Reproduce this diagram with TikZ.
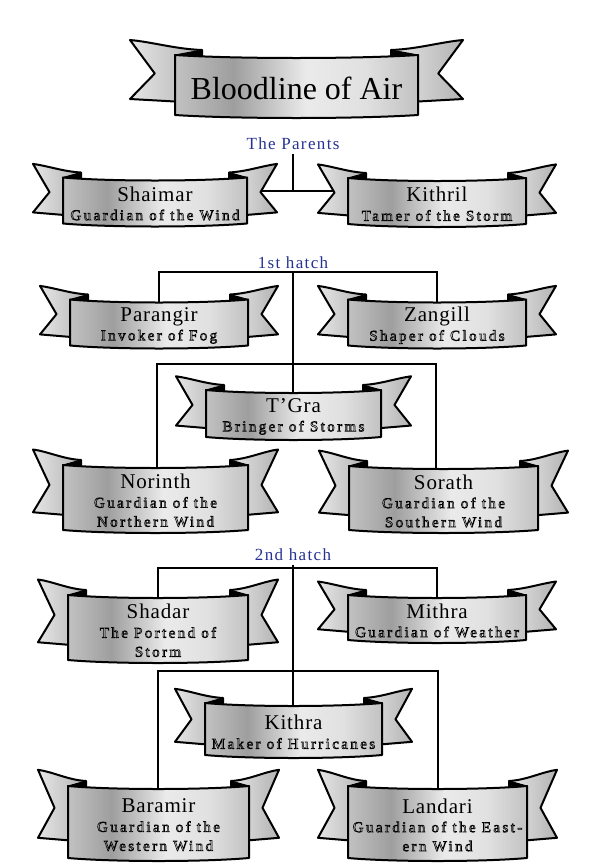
\documentclass[tikz,border=0pt]{standalone}
\usepackage{fontspec}
\setmainfont{Liberation Serif}
\usetikzlibrary{backgrounds}
\definecolor{hatchblue}{RGB}{38,50,145}
\pgfdeclarehorizontalshading{silver}{100bp}{color(0bp)=(black!24); color(25bp)=(black!24); color(37bp)=(black!38); color(52bp)=(black!8); color(64bp)=(black!12); color(75bp)=(black!24); color(100bp)=(black!24)}
\pgfdeclarehorizontalshading{tailshade}{100bp}{color(0bp)=(black!10); color(25bp)=(black!10); color(75bp)=(black!30); color(100bp)=(black!30)}
\tikzset{every ribbon/.style={draw=black,line width=2pt,line join=round},
        ribbon panel/.style={every ribbon,shading=silver},
        ribbon tail/.style={every ribbon,shading=tailshade},
        ribbon fold/.style={fill=black,draw=black,line width=1pt,line join=round},
        ribbon text/.style={align=center,inner sep=0pt,
                            font=\fontsize{21}{19}\selectfont\addfontfeature{LetterSpace=4}},
        hatch/.style={text=hatchblue,font=\fontsize{17}{17}\selectfont\addfontfeature{LetterSpace=8}},
        link/.style={draw=black,line width=1.2pt},
        }
% outlined second line of a ribbon
\newcommand{\role}[1]{{\fontsize{15}{19}\selectfont\addfontfeature{LetterSpace=16}%
  \special{pdf:literal direct 1 Tr 0.6 w}#1\special{pdf:literal direct 0 Tr}}}
% [tail length]{name}{centre}{half width}{half height}{text}
\newcommand{\ribbon}[6][30]{%
  \begin{scope}[shift={#3}]
    \foreach \side in {1,-1}{
      \begin{scope}[xscale=\side]
        \shadedraw[ribbon tail] (-#4-#1,-1.2*#5-12)
          .. controls (-#4-0.5*#1,-1.2*#5-10) and (-#4,-#5-9) .. (-#4+0.6*#1,-#5-8)
          -- (-#4+0.6*#1,0.3*#5+6) -- (-#4-#1,0.3*#5+2)
          -- (-#4-0.45*#1,-0.45*#5-1) -- cycle;
        \filldraw[ribbon fold] (-#4,-#5-3) -- (-#4+0.6*#1,-#5-8) -- (-#4+0.6*#1,-#5) -- cycle;
      \end{scope}
    }
    \shadedraw[ribbon panel] (-#4,-#5-3) .. controls (-#4/2,-#5+1) and (#4/2,-#5+1) .. (#4,-#5-3)
      -- (#4,#5-3) .. controls (#4/2,#5+1) and (-#4/2,#5+1) .. (-#4,#5-3) -- cycle;
    \node[ribbon text] (#2) at (0,0) {#6};
  \end{scope}}

\begin{document}
\begin{tikzpicture}[x=1pt,y=-1pt]
    \useasboundingbox (0,0) rectangle (596,865);

    \ribbon[45]{title}{(296.5,88)}{121.5}{30}{\fontsize{32}{34}\selectfont\addfontfeature{LetterSpace=0} Bloodline of Air}
    \node[hatch] (parents) at (293,144) {The Parents};

    \ribbon{shaimar}{(155,203.5)}{92}{23}{Shaimar\\ \role{Guardian of the Wind}}
    \ribbon{kithril}{(437,204)}{89}{23}{Kithril\\ \role{Tamer of the Storm}}

    \node[hatch] (hatchA) at (293,263) {1st hatch};
    \ribbon{parangir}{(159,325.5)}{89}{23}{Parangir\\ \role{Invoker of Fog}}
    \ribbon{zangill}{(437,325.5)}{89}{23}{Zangill\\ \role{Shaper of Clouds}}
    \ribbon{tgra}{(293.5,416.5)}{87.5}{23.5}{T'Gra\\ \role{Bringer of Storms}}
    \ribbon{norinth}{(155.5,500.5)}{92.5}{32.5}{Norinth\\ \role{Guardian of the}\\ \role{Northern Wind}}
    \ribbon{sorath}{(443.5,501)}{94.5}{32}{Sorath\\ \role{Guardian of the}\\ \role{Southern Wind}}

    \node[hatch] (hatchB) at (293,555) {2nd hatch};
    \ribbon{shadar}{(158,630.5)}{90}{32.5}{Shadar\\ \role{The Portend of}\\ \role{Storm}}
    \ribbon{mithra}{(437,620.5)}{89}{22.5}{Mithra\\ \role{Guardian of Weather}}
    \ribbon{kithra}{(293.5,732)}{88.5}{26}{Kithra\\ \role{Maker of Hurricanes}}
    \ribbon{baramir}{(158.5,825)}{90.5}{36}{Baramir\\ \role{Guardian of the}\\ \role{Western Wind}}
    \ribbon{landari}{(437.5,825)}{89.5}{36}{Landari\\ \role{Guardian of the East-}\\ \role{ern Wind}}

    % family lines, behind the ribbons
    \begin{scope}[on background layer]
        \coordinate (pbar) at (293,191);
        \draw[link] (parents) -- (pbar);
        \draw[link] (shaimar |- pbar) -- (kithril |- pbar);

        \coordinate (bar1) at (293,272);
        \draw[link] (hatchA) -- (hatchA |- tgra);
        \draw[link] (parangir) |- (bar1) -| (zangill);
        \coordinate (bar2l) at (157,364);
        \coordinate (bar2r) at (436,364);
        \draw[link] (norinth -| bar2l) -- (bar2l) -- (bar2r) -- (sorath -| bar2r);

        \coordinate (bar3) at (293,568);
        \draw[link] (hatchB) -- (hatchB |- kithra);
        \draw[link] (shadar) |- (bar3) -| (mithra);
        \coordinate (bar4l) at (158,671);
        \coordinate (bar4r) at (438,671);
        \draw[link] (baramir -| bar4l) -- (bar4l) -- (bar4r) -- (landari -| bar4r);
    \end{scope}
\end{tikzpicture}
\end{document}
